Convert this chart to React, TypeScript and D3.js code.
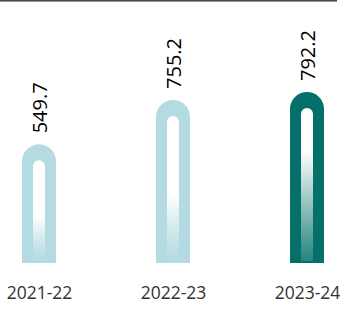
import React, { useEffect, useRef } from 'react';
import * as d3 from 'd3';

const periods = ["2021-22", "2022-23", "2023-24"];
const values = [549.7, 755.2, 792.2];
const barColors = ["#b3dbe1", "#b3dbe1", "#05706a"];
const fadeColors = ["#b3dbe1", "#b3dbe1", "#2a8680"];

// rounded-top column, flat bottom
const capsule = (x0: number, x1: number, top: number, bottom: number) => {
    const r = (x1 - x0) / 2;
    return `M${x0},${bottom}V${top + r}A${r},${r} 0 0 1 ${x1},${top + r}V${bottom}Z`;
};

const App = () => {
    const svgRef = useRef<SVGSVGElement>(null);

    useEffect(() => {
        const svg = d3.select(svgRef.current);
        svg.selectAll("*").remove();

        const width = 340;
        const height = 311;
        const baseline = 263;
        const barWidth = 34;
        const innerWidth = 12;

        const x = d3.scalePoint(periods, [39, 307]);
        const y = d3.scaleLinear([0, d3.max(values)!], [baseline, 92]);

        svg.attr("width", width).attr("height", height);

        svg.append("rect")
            .attr("x", 0).attr("y", 0)
            .attr("width", 337).attr("height", 1.6)
            .attr("fill", "#4a4a4a");

        const defs = svg.append("defs");
        periods.forEach((p, i) => {
            const g = defs.append("linearGradient")
                .attr("id", `fade${i}`)
                .attr("x1", 0).attr("y1", 0).attr("x2", 0).attr("y2", 1);
            g.append("stop").attr("offset", 0).attr("stop-color", "#fff");
            g.append("stop").attr("offset", i === 2 ? 0.28 : 0.55).attr("stop-color", "#fff");
            g.append("stop").attr("offset", 1).attr("stop-color", fadeColors[i]).attr("stop-opacity", i === 2 ? 0.95 : 0.7);
        });

        const bars = svg.append("g")
            .selectAll("g")
            .data(periods)
            .join("g");

        bars.append("path")
            .attr("fill", (d, i) => barColors[i])
            .attr("d", (d, i) => {
                const cx = x(d)!;
                return capsule(cx - barWidth / 2, cx + barWidth / 2, y(values[i]), baseline);
            });

        bars.append("path")
            .attr("fill", (d, i) => `url(#fade${i})`)
            .attr("d", (d, i) => {
                const cx = x(d)!;
                return capsule(cx - innerWidth / 2, cx + innerWidth / 2, y(values[i]) + 16, baseline - 2);
            });

        bars.append("text")
            .attr("transform", (d, i) => `translate(${x(d)! + 7.5},${y(values[i]) - 11}) rotate(-90)`)
            .attr("font-family", "'Open Sans', sans-serif")
            .attr("font-size", 20)
            .attr("fill", "#000")
            .text((d, i) => values[i].toFixed(1));

        svg.append("g")
            .attr("transform", `translate(0,${baseline})`)
            .call(d3.axisBottom(x).tickSize(0).tickPadding(24))
            .call(g => g.select(".domain").remove())
            .call(g => g.selectAll("text")
                .attr("font-family", "'Open Sans', sans-serif")
                .attr("font-size", 17.5)
                .attr("fill", "#333"));
    }, []);

    return <svg ref={svgRef} style={{ position: "absolute", left: 0, top: 0 }} />;
};

export default App;
